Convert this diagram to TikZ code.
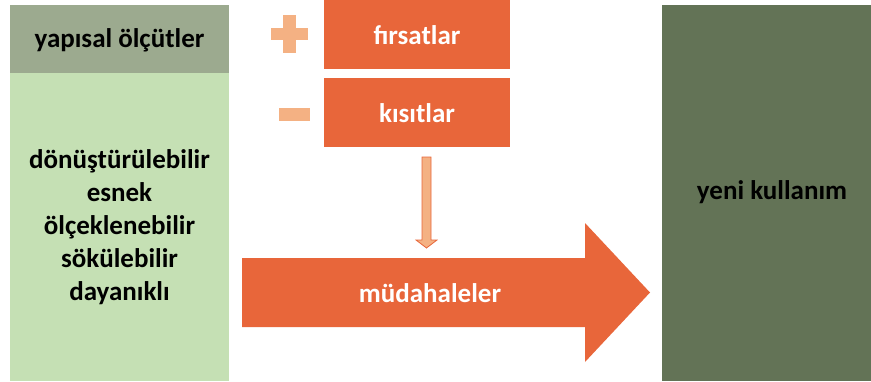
\documentclass[tikz,border=0pt]{standalone}
\usepackage{fontspec}
\setmainfont{Carlito}
\definecolor{hdrgreen}{HTML}{9CAA8F}
\definecolor{lightgreen}{HTML}{C5E0B4}
\definecolor{darkgreen}{HTML}{637356}
\definecolor{orangemain}{HTML}{E8663A}
\definecolor{orangelight}{HTML}{F4B183}
\begin{document}
\begin{tikzpicture}[x=1pt,y=-1pt,
  boxtext/.style={font=\bfseries\fontsize{27}{33}\selectfont, align=center},
  whitetext/.style={boxtext, text=white},
  orbox/.style={fill=orangemain, draw=none}]
\useasboundingbox (0,0) rectangle (871,381);
% left column
\fill[hdrgreen] (10,5) rectangle (229,73);
\fill[lightgreen] (10,73) rectangle (229,381);
\node[boxtext] (hdr) at (119.5,40) {yapısal ölçütler};
\node[boxtext] (crit) at (119.5,227) {dönüştürülebilir\\esnek\\ölçeklenebilir\\sökülebilir\\dayanıklı};
% orange boxes
\fill[orbox] (324,0) rectangle (510,69);
\fill[orbox] (324,78) rectangle (510,147);
\node[whitetext] (fir) at (417,35) {fırsatlar};
\node[whitetext] (kis) at (417,113) {kısıtlar};
% plus and minus
\fill[orangelight] (283,15) rectangle (296,53);
\fill[orangelight] (271,28) rectangle (308,40);
\fill[orangelight] (279,108) rectangle (310,121);
% small arrow
\filldraw[fill=orangelight, draw=orangemain, line width=0.8pt]
  (422,157) -- (431,157) -- (431,240) -- (437,240) -- (426.5,248) -- (416,240) -- (422,240) -- cycle;
% big arrow
\fill[orangemain] (242,258) -- (585,258) -- (585,223) -- (650,292.5) -- (585,362) -- (585,327) -- (242,327) -- cycle;
\node[whitetext] (mud) at (430,293) {müdahaleler};
% right box
\fill[darkgreen] (662,5) rectangle (871,381);
\node[boxtext] (yeni) at (772,192) {yeni kullanım};
\end{tikzpicture}
\end{document}
